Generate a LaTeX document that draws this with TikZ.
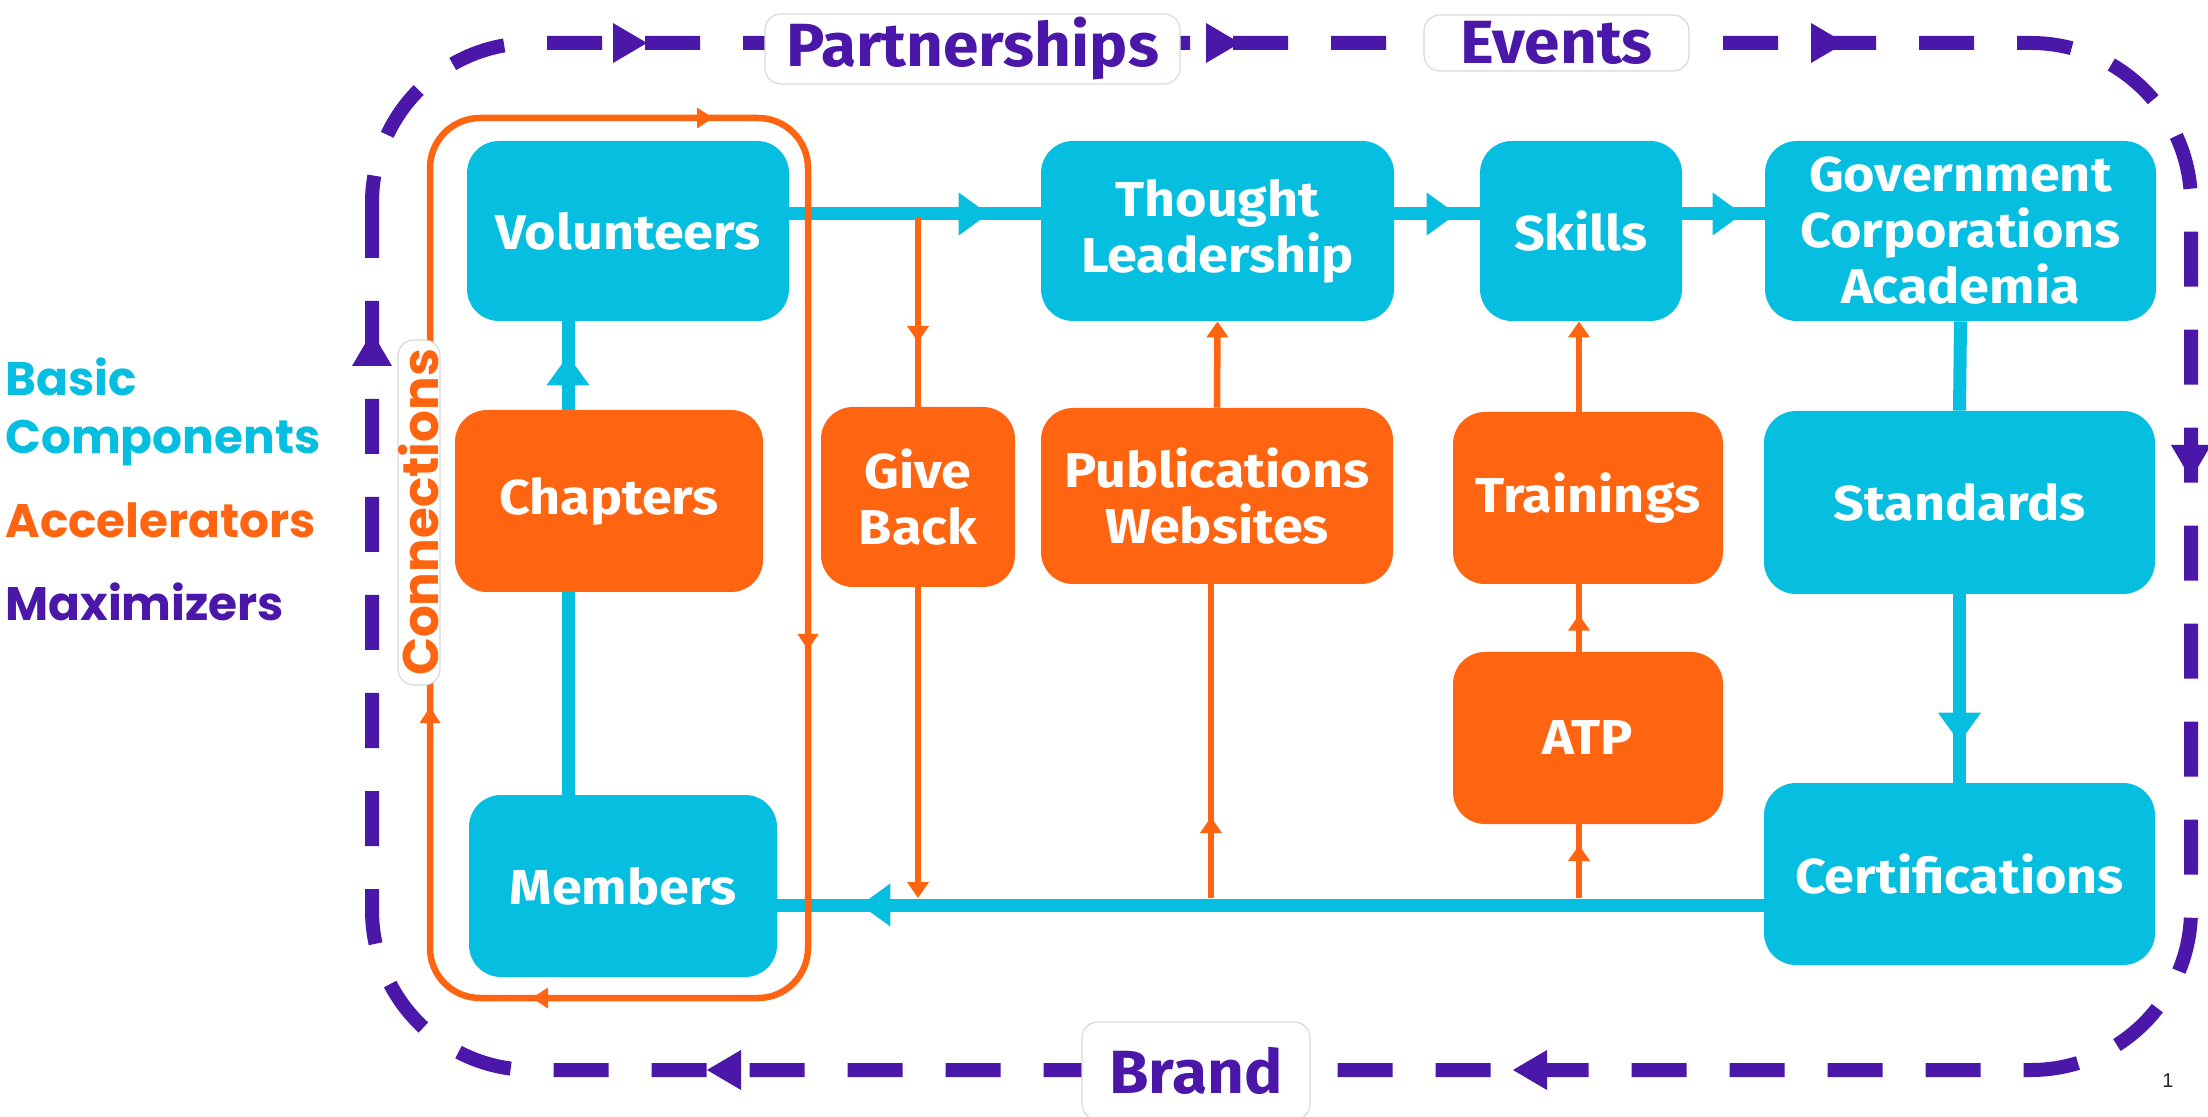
\documentclass[tikz,border=0pt]{standalone}
\usepackage{fontspec}
\setmainfont{Fira Sans}
\newfontfamily\boxfont[FakeStretch=1.1]{Fira Sans}
\newfontfamily\labfont[FakeStretch=1.05]{Fira Sans}
\newfontfamily\legfont{Poppins}
\newfontfamily\pgfont{Liberation Sans}
\usetikzlibrary{arrows.meta,decorations.markings,backgrounds}
\definecolor{cyanc}{HTML}{06BEDF}
\definecolor{orangec}{HTML}{FF6410}
\definecolor{purplec}{HTML}{4B17A9}
\definecolor{bordc}{HTML}{DADADA}
\tikzset{
 cbox/.style={fill=cyanc, rounded corners=16pt, text=white, font=\boxfont\bfseries\fontsize{24.5}{28}\selectfont, align=center, inner sep=0pt},
 obox/.style={cbox, fill=orangec},
 lab/.style={fill=white, draw=bordc, line width=0.6pt, rounded corners=8pt, text=purplec, font=\labfont\bfseries\fontsize{30.5}{34}\selectfont, inner sep=0pt},
 cline/.style={color=cyanc, line width=6.5pt},
 oline/.style={color=orangec, line width=3.25pt},
 cmid/.style={postaction={decorate, decoration={markings, mark=at position #1 with {\arrow{Triangle[length=15pt,width=20.5pt]}}}}},
 omid/.style={postaction={decorate, decoration={markings, mark=at position #1 with {\arrow{Triangle[length=8pt,width=10.5pt]}}}}},
 oend/.style={-{Triangle[length=8pt,width=10.5pt]}},
 frame/.style={color=purplec, line width=7pt, dash pattern=on 27.5pt off 21.5pt},
 legend/.style={font=\legfont\bfseries\fontsize{23.5}{29}\selectfont, align=left, inner sep=0pt, anchor=base west},
}
\begin{document}
\begin{tikzpicture}[x=0.5pt,y=-0.5pt]
\useasboundingbox (0,0) rectangle (2208,1117);
% boxes
\node[cbox, minimum width=161pt, minimum height=90pt] (vol) at (628,231) {Volunteers};
\node[cbox, minimum width=176.5pt, minimum height=90pt] (tl) at (1217.5,231) {Thought\\Leadership};
\node[cbox, minimum width=101pt, minimum height=90pt] (sk) at (1581,231) {Skills};
\node[cbox, minimum width=195.5pt, minimum height=90pt] (gov) at (1960.5,231) {Government\\Corporations\\Academia};
\node[obox, minimum width=154pt, minimum height=91pt] (chap) at (609,501) {Chapters};
\node[obox, minimum width=97pt, minimum height=90pt] (gb) at (918,497) {Give\\Back};
\node[obox, minimum width=176pt, minimum height=88pt] (pub) at (1217,496) {Publications\\Websites};
\node[obox, minimum width=135pt, minimum height=86pt] (tr) at (1588,498) {Trainings};
\node[obox, minimum width=135pt, minimum height=86pt] (atp) at (1588,738) {ATP};
\node[cbox, minimum width=195.5pt, minimum height=91.5pt] (std) at (1959.5,502.5) {Standards};
\node[cbox, minimum width=195.5pt, minimum height=91pt] (cert) at (1959.5,874) {Certifications};
\node[cbox, minimum width=154pt, minimum height=91pt] (mem) at (623,886) {Members};
% frame labels
\node[lab, minimum width=207.5pt, minimum height=35pt] (part) at (972.5,49) {Partnerships};
\node[lab, minimum width=132.5pt, minimum height=28pt] (evt) at (1556.5,43) {Events};
\node[lab, minimum width=114pt, minimum height=49pt] (brand) at (1196,1071) {Brand};
\node[lab, text=orangec, font=\legfont\bfseries\fontsize{25}{30}\selectfont, rotate=90, minimum width=172.5pt, minimum height=21pt] (conn) at (419,512.5) {Connections};
% legend
\node[legend, text=cyanc] (leg1) at (5,454) {Basic\\Components};
\node[legend, text=orangec] (leg2) at (5,538) {Accelerators};
\node[legend, text=purplec] (leg3) at (5,621) {Maximizers};
\node[font=\pgfont\fontsize{10}{12}\selectfont, text=black!85, inner sep=0pt] (pg) at (2168,1081) {1};
% helper coordinates
\coordinate (cv) at (0,214);
\coordinate (cm) at (0,905);
\coordinate (mvx) at (568,0);
\coordinate (gbt) at (918,218);
\coordinate (gbb) at (918,898);
\coordinate (pbb) at (1211,898);
\coordinate (abb) at (1579,898);
\coordinate (ax) at (1579,0);
\begin{pgfonlayer}{background}
\fill[white] (0,0) rectangle (2208,1117);
% maximizer frame
\draw[frame, rounded corners=80pt] (372,43) rectangle (2191,1070);
\fill[purplec] (647,43) -- (613,23) -- (613,63) -- cycle;
\fill[purplec] (1240,43) -- (1206,23) -- (1206,63) -- cycle;
\fill[purplec] (1845,43) -- (1811,23) -- (1811,63) -- cycle;
\fill[purplec] (2191,479) -- (2171,445) -- (2211,445) -- cycle;
\fill[purplec] (1513,1070) -- (1547,1050) -- (1547,1090) -- cycle;
\fill[purplec] (707,1070) -- (741,1050) -- (741,1090) -- cycle;
\fill[purplec] (372,332) -- (352,366) -- (392,366) -- cycle;
% cyan connectors
\draw[cline, cmid=-26pt] (vol.east |- cv) -- (tl.west |- cv);
\draw[cline, cmid=-11.5pt] (tl.east |- cv) -- (sk.west |- cv);
\draw[cline, cmid=-11pt] (sk.east |- cv) -- (gov.west |- cv);
\draw[cline] (gov.south) -- (std.north);
\draw[cline, cmid=-20pt] (std.south) -- (cert.north);
\draw[cline, cmid=-41.5pt] (cert.west |- cm) -- (mem.east |- cm);
\draw[cline, cmid=-17pt] (mem.north -| mvx) -- (vol.south -| mvx);
% orange connections loop
\draw[oline, rounded corners=25pt]
  (600,118) -- (808,118) -- (808,998) -- (430,998) -- (430,118) -- cycle;
\fill[orangec] (713,118) -- (697,107.5) -- (697,128.5) -- cycle;
\fill[orangec] (808,650) -- (797.5,634) -- (818.5,634) -- cycle;
\fill[orangec] (532,998) -- (548,987.5) -- (548,1008.5) -- cycle;
\fill[orangec] (430,707) -- (419.5,723) -- (440.5,723) -- cycle;
% orange connectors
\draw[oline, omid=62pt] (gbt) -- (gb.north);
\draw[oline, oend] (gb.south) -- (gbb);
\draw[oline, omid=40.5pt] (pbb) -- (pub.south -| pbb);
\draw[oline, oend] (pub.north) -- (tl.south);
\draw[oline, omid=26.5pt] (abb) -- (atp.south -| abb);
\draw[oline, omid=18.5pt] (atp.north -| ax) -- (tr.south -| ax);
\draw[oline, oend] (tr.north -| ax) -- (sk.south -| ax);
\end{pgfonlayer}
\end{tikzpicture}
\end{document}
